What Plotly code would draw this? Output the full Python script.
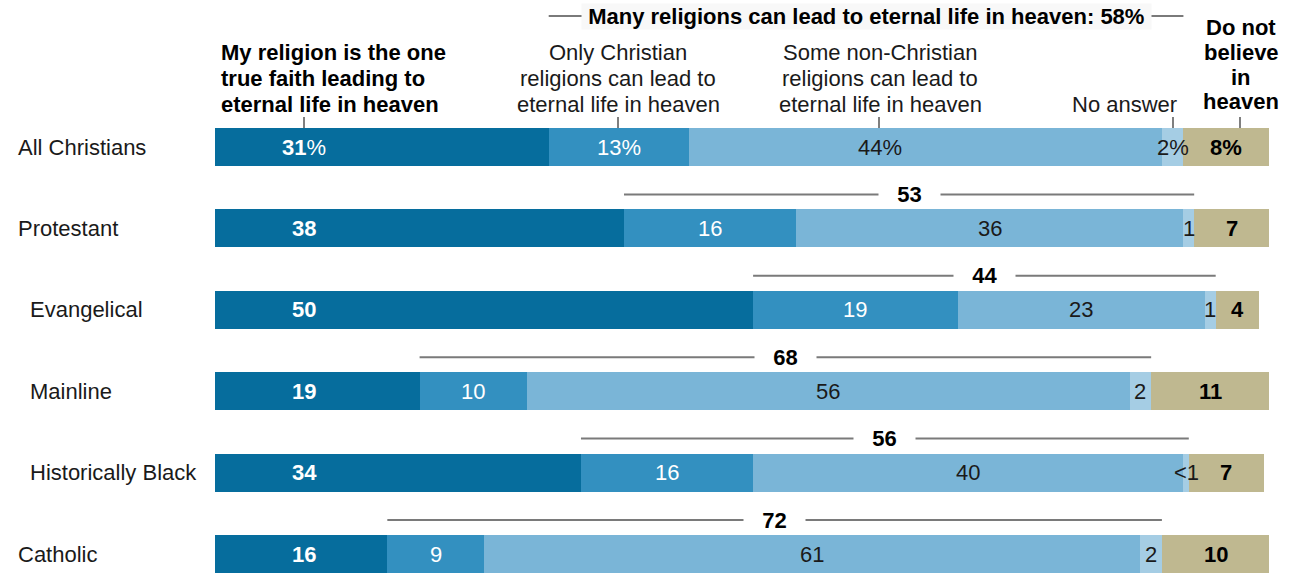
import plotly.graph_objects as go

# ---------------- data ----------------
groups = ["All Christians", "Protestant", "Evangelical", "Mainline", "Historically Black", "Catholic"]
indent = [False, False, True, True, True, False]
one_true_faith = [31, 38, 50, 19, 34, 16]
only_christian = [13, 16, 19, 10, 16, 9]
some_non_christian = [44, 36, 23, 56, 40, 61]
no_answer = [2, 1, 1, 2, 0.5, 2]
not_believe = [8, 7, 4, 11, 7, 10]
many_religions_net = [58, 53, 44, 68, 56, 72]

series_names = [
    "My religion is the one true faith leading to eternal life in heaven",
    "Only Christian religions can lead to eternal life in heaven",
    "Some non-Christian religions can lead to eternal life in heaven",
    "No answer",
    "Do not believe in heaven",
]

# ---------------- style ----------------
colors = ["#066d9d", "#3390c0", "#7ab5d7", "#a5cde4", "#bfb890"]
FONT = "Liberation Sans"
FS = 22
W, H = 1291, 575
X0_PX, PX_PER = 215.2, 10.758
ROW0_PX, ROW_PX = 147.0, 81.4


def xd(px):
    return (px - X0_PX) / PX_PER


def yd(py):
    return (py - ROW0_PX) / ROW_PX


series = [one_true_faith, only_christian, some_non_christian, no_answer, not_believe]
rows = list(range(len(groups)))

fig = go.Figure()
for name, vals, col in zip(series_names, series, colors):
    fig.add_trace(go.Bar(
        y=rows, x=vals, orientation="h", name=name,
        marker=dict(color=col, line=dict(width=0)),
        width=38 / ROW_PX, hoverinfo="x+name",
    ))

ann = []
shapes = []


def label(x, y, text, color="#1a1a1a", anchor="center", **kw):
    d = dict(x=x, y=y, text=text, showarrow=False, xanchor=anchor,
             font=dict(color=color, size=FS, family=FONT))
    d.update(kw)
    ann.append(d)


for i in rows:
    vals = [s[i] for s in series]
    starts = [sum(vals[:k]) for k in range(5)]
    pct = "%" if i == 0 else ""
    label(8.3, i, f"<b>{vals[0]}</b>{pct}", color="white")
    label(starts[1] + vals[1] / 2, i, f"{vals[1]}{pct}", color="white")
    x3 = xd(880) if i == 0 else starts[2] + vals[2] / 2
    label(x3, i, f"{vals[2]}{pct}")
    na = "<1" if vals[3] < 1 else f"{vals[3]:g}{pct}"
    label(starts[3] + vals[3] / 2, i, na)
    label(starts[4] + vals[4] / 2, i, f"<b>{vals[4]}{pct}</b>", color="black")

    # category label
    label(xd(28 if indent[i] else 16), i, groups[i], anchor="left")

    # bracket for "many religions" net
    bx0 = starts[1]
    bx1 = starts[4]
    by = yd(16) if i == 0 else i - 34 / ROW_PX
    shapes.append(dict(type="line", x0=bx0, x1=bx1, y0=by, y1=by,
                       line=dict(color="#7a7a7a", width=2)))
    if i == 0:
        txt = f"\u00a0<b>Many religions can lead to eternal life in heaven: {many_religions_net[i]}%</b>\u00a0"
        label(xd(866), by, txt, color="black", bgcolor="#f8f8f8", borderpad=0)
    else:
        txt = f"\u00a0\u00a0\u00a0<b>{many_religions_net[i]}</b>\u00a0\u00a0\u00a0"
        label((bx0 + bx1) / 2, by, txt, color="black", bgcolor="white", borderpad=0)

# column headers (one annotation per line for exact line spacing)
headers = [
    (["My religion is the one", "true faith leading to", "eternal life in heaven"], True, 219, "left", 304, [52, 78, 104]),
    (["Only Christian", "religions can lead to", "eternal life in heaven"], False, 618, "center", 618, [52, 78, 104]),
    (["Some non-Christian", "religions can lead to", "eternal life in heaven"], False, 880, "center", 879, [52, 78, 104]),
    (["No answer"], False, 1124, "center", 1173, [104]),
    (["Do not", "believe", "in", "heaven"], True, 1241, "center", 1240, [27, 52, 77, 101]),
]
for lines, bold, px, anchor, tick, ys in headers:
    for ln, py in zip(lines, ys):
        t = f"<b>{ln}</b>" if bold else ln
        label(xd(px), yd(py), t, color="black" if bold else "#1a1a1a", anchor=anchor)
    shapes.append(dict(type="line", x0=xd(tick), x1=xd(tick), y0=yd(117), y1=yd(128),
                       line=dict(color="#555555", width=1.5)))

fig.update_layout(
    width=W, height=H, barmode="stack", showlegend=False,
    margin=dict(l=0, r=0, t=0, b=0),
    paper_bgcolor="white", plot_bgcolor="white",
    xaxis=dict(range=[xd(0), xd(W)], visible=False, fixedrange=True),
    yaxis=dict(range=[yd(H), yd(0)], visible=False, fixedrange=True),
    annotations=ann, shapes=shapes,
    font=dict(family=FONT),
)

fig.write_html("out.html", config={"displayModeBar": False},
               post_script="document.body.style.margin='0px';")
